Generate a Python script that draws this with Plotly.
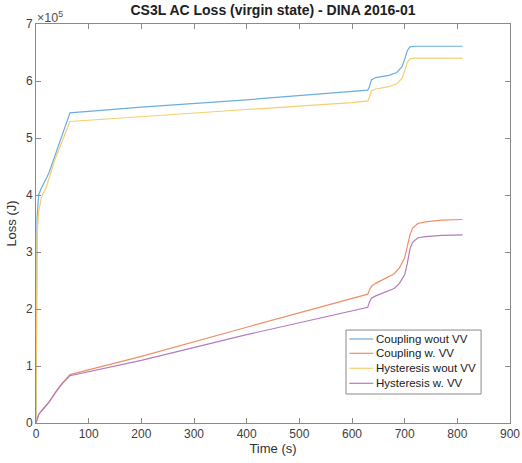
import plotly.graph_objects as go

# Values in units of 1e5 J
t_wout = [0, 0.5, 2, 5, 10, 20, 25, 64.5, 200, 400, 600, 630, 633, 637, 645, 670, 685, 695, 700, 705, 710, 715, 720, 810]
coupling_wout = [0, 2.5, 3.6, 4.0, 4.12, 4.3, 4.4, 5.44, 5.54, 5.67, 5.81, 5.84, 5.9, 6.02, 6.06, 6.1, 6.15, 6.25, 6.38, 6.53, 6.6, 6.61, 6.61, 6.61]
t_hyst_wout = [0, 0.5, 2, 5, 10, 20, 35, 64.5, 200, 400, 600, 630, 633, 637, 645, 670, 685, 695, 700, 705, 710, 715, 720, 810]
hyst_wout = [0, 2.0, 3.3, 3.7, 3.95, 4.15, 4.6, 5.29, 5.37, 5.5, 5.62, 5.65, 5.72, 5.83, 5.86, 5.9, 5.95, 6.05, 6.18, 6.33, 6.39, 6.4, 6.4, 6.4]
t_w = [0, 2, 5, 14, 25, 39, 50, 64.5, 200, 400, 600, 630, 633, 637, 645, 660, 680, 690, 700, 705, 710, 715, 725, 740, 770, 810]
coupling_w = [0, 0.08, 0.15, 0.25, 0.37, 0.57, 0.7, 0.85, 1.17, 1.68, 2.18, 2.26, 2.33, 2.4, 2.45, 2.52, 2.62, 2.72, 2.9, 3.1, 3.3, 3.42, 3.5, 3.53, 3.56, 3.57]
hyst_w = [0, 0.08, 0.15, 0.25, 0.37, 0.56, 0.69, 0.83, 1.1, 1.55, 1.97, 2.03, 2.12, 2.19, 2.23, 2.29, 2.36, 2.45, 2.6, 2.8, 3.05, 3.17, 3.25, 3.27, 3.29, 3.30]

series_names = ["Coupling wout VV", "Coupling w. VV", "Hysteresis wout VV", "Hysteresis w. VV"]
series_x = [t_wout, t_w, t_hyst_wout, t_w]
series_y = [coupling_wout, coupling_w, hyst_wout, hyst_w]
colors = ["#6AAEE0", "#EE9068", "#F5CF6E", "#B27CC0"]

x_ticks = [0, 100, 200, 300, 400, 500, 600, 700, 800, 900]
y_ticks = [0, 1, 2, 3, 4, 5, 6, 7]

fig = go.Figure()
for name, x, y, c in zip(series_names, series_x, series_y, colors):
    fig.add_trace(go.Scatter(x=x, y=y, mode="lines", name=name,
                             line=dict(color=c, width=1.2)))

FONT = "Liberation Sans, Arial"
axis_common = dict(showline=True, linecolor="#8a8a8a", linewidth=1, mirror="ticks",
                   ticks="inside", ticklen=5, tickcolor="#8a8a8a",
                   showgrid=False, zeroline=False, automargin=False,
                   tickfont=dict(family=FONT, size=12, color="#404040"))

fig.update_layout(
    width=522, height=463,
    margin=dict(l=36, r=12, t=24, b=40),
    paper_bgcolor="white", plot_bgcolor="white",
    title=dict(text="<b>CS3L AC Loss (virgin state) - DINA 2016-01</b>", x=0.523, xanchor="center",
               y=0.988, yanchor="top",
               font=dict(family=FONT, size=14, color="#202020")),
    xaxis=dict(range=[0, 900], tickvals=x_ticks, title=dict(text="Time (s)", standoff=3,
               font=dict(family=FONT, size=13, color="#303030")), **axis_common),
    yaxis=dict(range=[0, 7], tickvals=y_ticks, title=dict(text="Loss (J)", standoff=6,
               font=dict(family=FONT, size=13, color="#303030")), **axis_common),
    showlegend=False,
)
fig.add_annotation(text="\u00d710<sup>5</sup>", xref="paper", yref="paper", x=0.0, y=1.0,
                   xanchor="left", yanchor="bottom", showarrow=False, yshift=-3, xshift=-1,
                   font=dict(family=FONT, size=12.5, color="#505050"))

# Legend box (MATLAB style)
lx0, lx1, ly0, ly1 = 0.654, 0.939, 0.0727, 0.233
fig.add_shape(type="rect", xref="paper", yref="paper", x0=lx0, x1=lx1, y0=ly0, y1=ly1,
              line=dict(color="#8a8a8a", width=1), fillcolor="white", layer="above")
row_y = [0.2105, 0.1747, 0.1371, 0.0995]
for name, c, ry in zip(series_names, colors, row_y):
    fig.add_shape(type="line", xref="paper", yref="paper", x0=0.661, x1=0.7116, y0=ry, y1=ry,
                  line=dict(color=c, width=1.2), layer="above")
    fig.add_annotation(text=name, xref="paper", yref="paper", x=0.713, y=ry,
                       xanchor="left", yanchor="middle", showarrow=False,
                       font=dict(family=FONT, size=11.5, color="#202020"))

fig.write_html("out.html", config={"displayModeBar": False},
               post_script="document.body.style.margin='0px';")
